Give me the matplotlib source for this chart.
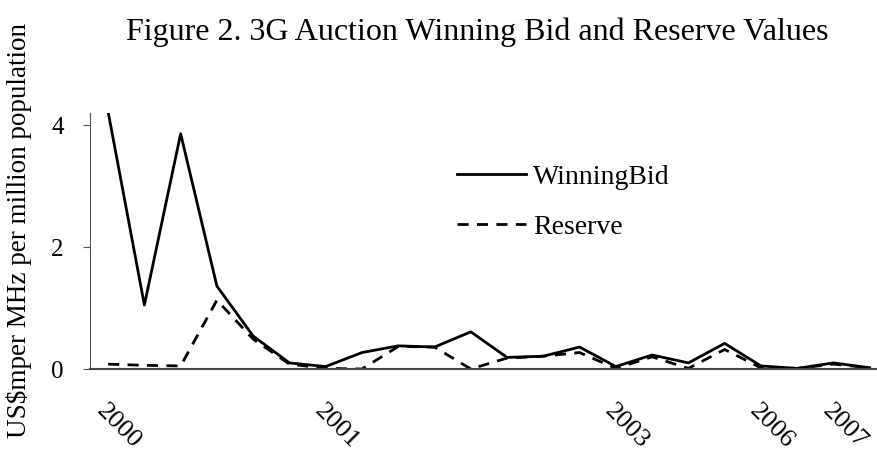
import numpy as np
import matplotlib
matplotlib.use("Agg")
import matplotlib.pyplot as plt

# Category labels (Excel-style category axis, most left blank)
tick_labels = ["2000", "", "", "", "", "", "2001", "", "", "", "", "",
               "", "", "2003", "", "", "", "2006", "", "2007", ""]

# US$m per MHz per million population
winning_bid = [4.22, 1.05, 3.86, 1.36, 0.54, 0.10, 0.04, 0.27, 0.38, 0.36, 0.61,
               0.19, 0.21, 0.36, 0.04, 0.23, 0.10, 0.42, 0.05, 0.01, 0.10, 0.02]
reserve = [0.08, 0.06, 0.05, 1.13, 0.49, 0.08, 0.01, 0.00, 0.37, 0.36, 0.00,
           0.18, 0.21, 0.27, 0.01, 0.20, 0.01, 0.32, 0.02, 0.01, 0.08, 0.02]

plt.rcParams['font.family'] = ['Liberation Serif', 'DejaVu Serif']

fig = plt.figure(figsize=(8.77, 4.55), dpi=100)
ax = fig.add_axes([0.1026, 0.189, 0.8974, 0.5626])

x = np.arange(len(winning_bid))
ax.plot(x, winning_bid, color="black", linewidth=2.0, label="WinningBid")
ax.plot(x, reserve, color="black", linewidth=2.0, linestyle=(0, (4, 3)),
        label="Reserve")

ax.set_xlim(-0.5, 21.2)
ax.set_ylim(0, 4.2)
ax.set_yticks([0, 2, 4])
ax.tick_params(axis="y", labelsize=18, length=5, color="#555555", direction="out", pad=14)
ax.set_xticks(x)
ax.set_xticklabels(tick_labels, rotation=-45, ha="left", va="top",
                   rotation_mode="anchor", fontsize=19)
ax.tick_params(axis="x", length=0, pad=22)

for side in ["top", "right"]:
    ax.spines[side].set_visible(False)
ax.spines["left"].set_color("#555555")
ax.spines["bottom"].set_color("#444444")
ax.spines["bottom"].set_linewidth(1.5)

ax.set_ylabel("US$mper MHz per million population", fontsize=19.5)
ax.yaxis.set_label_coords(-0.074, 0.54)

ax.legend(loc="upper left", bbox_to_anchor=(0.466, 0.80), frameon=False,
          fontsize=20, handlelength=2.5, handletextpad=0.25, labelspacing=0.9,
          borderpad=0, borderaxespad=0)

fig.text(0.544, 0.93, "Figure 2. 3G Auction Winning Bid and Reserve Values",
         ha="center", va="center", fontsize=23)

fig.savefig("out.png", dpi=100)
